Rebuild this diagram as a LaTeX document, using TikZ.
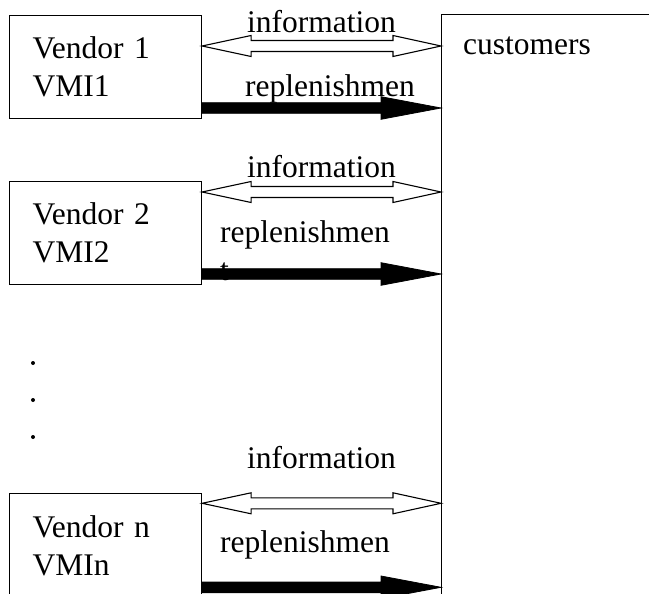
\documentclass[tikz,border=0pt]{standalone}
\usepackage{fontspec}
\setmainfont{Liberation Serif}
\usetikzlibrary{calc}
\tikzset{
  every node/.style={font=\fontsize{31.5}{38}\selectfont},
  vendorbox/.style={draw, line width=1.1pt, rectangle, anchor=north west,
    minimum width=192pt, minimum height=103pt, inner xsep=23pt,
    text width=146pt, align=left},
  lbl/.style={anchor=base west, inner sep=0pt, align=left},
  hollow/.style={draw=black, fill=white, line width=1.1pt, line join=miter},
  solid/.style={draw=black, fill=black, line width=0.8pt, line join=miter}
}
\newcommand\myinfoarrow[2]{%
  \draw[hollow] let \p1=(#1), \p2=(#2) in
    (\x1,\y1) -- (\x1+49pt,\y1+10.5pt) -- (\x1+49pt,\y1+5.5pt)
    -- (\x2-48pt,\y2+5.5pt) -- (\x2-48pt,\y2+10.5pt) -- (\x2,\y2)
    -- (\x2-48pt,\y2-10.5pt) -- (\x2-48pt,\y2-5.5pt)
    -- (\x1+49pt,\y1-5.5pt) -- (\x1+49pt,\y1-10.5pt) -- cycle;}
\newcommand\myreplarrow[2]{%
  \draw[solid] let \p1=(#1), \p2=(#2) in
    (\x1,\y1+5.3pt) -- (\x2-60pt,\y2+5.3pt) -- (\x2-60pt,\y2+11.3pt)
    -- (\x2,\y2) -- (\x2-60pt,\y2-11.3pt) -- (\x2-60pt,\y2-5.3pt)
    -- (\x1,\y1-5.3pt) -- cycle;}
\begin{document}
\begin{tikzpicture}[x=1pt,y=-1pt]
\useasboundingbox (0,0) rectangle (649,594);
\clip (0,0) rectangle (649,594);
\fill[white] (0,0) rectangle (649,594);

% customers box (extends beyond the page)
\node[draw, line width=1.1pt, anchor=north west, minimum width=260pt,
  minimum height=640pt] (cust) at (441,14) {};
\node[lbl] (custtxt) at (463,55) {customers};

% vendor boxes
\node[vendorbox] (v1) at (9,14.7) {Vendor 1\\VMI1};
\node[vendorbox] (v2) at (9,181) {Vendor 2\\VMI2};
\node[vendorbox] (v3) at (9,493.3) {Vendor n\\VMIn};

% dots
\fill (33,363) circle (2pt);
\fill (33,400) circle (2pt);
\fill (33,437) circle (2pt);

% labels
\node[lbl] (i1) at (247,33) {information};
\node[lbl] (r1) at (245,97) {replenishmen};
\node[lbl] (i2) at (247,178) {information};
\node[lbl] (r2) at (220,280) {replenishmen\\t};
\node[lbl] (i3) at (247,468) {information};
\node[lbl] (r3) at (220,552) {replenishmen};

% anchor points
\coordinate (a1) at ($(v1.north east)+(0,31.3)$);
\coordinate (b1) at ($(cust.north west)+(0,32)$);
\coordinate (c1) at ($(v1.north east)+(0,93.3)$);
\coordinate (d1) at ($(cust.north west)+(0,94)$);
\coordinate (a2) at ($(v2.north east)+(0,11)$);
\coordinate (b2) at ($(cust.north west)+(0,178)$);
\coordinate (c2) at ($(v2.north east)+(0,93)$);
\coordinate (d2) at ($(cust.north west)+(0,260)$);
\coordinate (a3) at ($(v3.north east)+(0,10)$);
\coordinate (b3) at ($(cust.north west)+(0,489.3)$);
\coordinate (c3) at ($(v3.north east)+(0,94)$);
\coordinate (d3) at ($(cust.north west)+(0,573.3)$);

\myinfoarrow{a1}{b1}
\myreplarrow{c1}{d1}
\myinfoarrow{a2}{b2}
\myreplarrow{c2}{d2}
\myinfoarrow{a3}{b3}
\myreplarrow{c3}{d3}
\end{tikzpicture}
\end{document}
